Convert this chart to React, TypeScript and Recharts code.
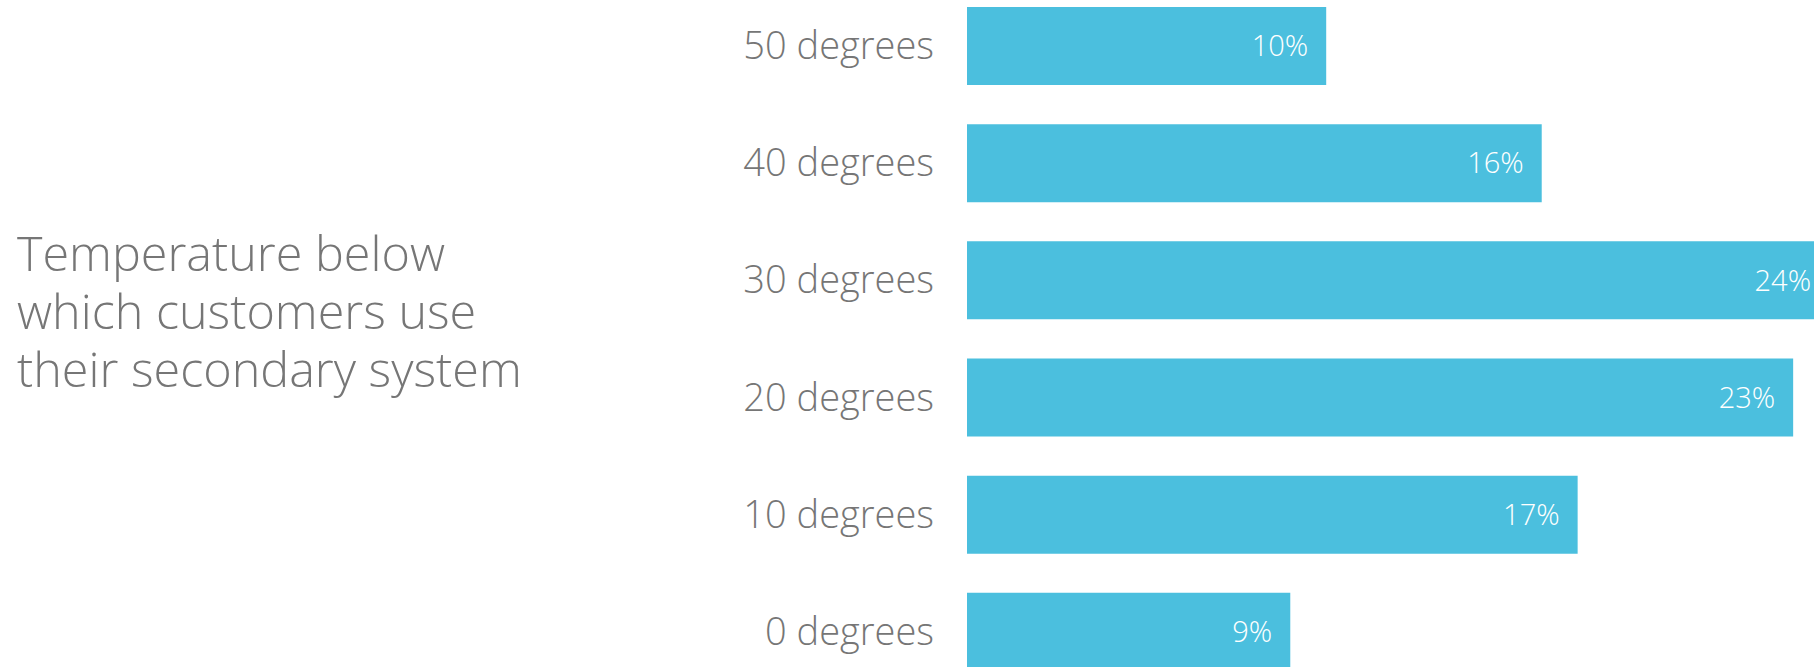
import React from "react";
import { BarChart, Bar, XAxis, YAxis, LabelList } from "recharts";

const categories = ["50 degrees", "40 degrees", "30 degrees", "20 degrees", "10 degrees", "0 degrees"];
const shares = [10, 16, 24, 23, 17, 9];
const titleLines = ["Temperature below", "which customers use", "their secondary system"];

const BAR_COLOR = "#4BBFDE";
const TEXT_COLOR = "#767676";

const data = categories.map((label, i) => ({ label, value: shares[i] }));

export default function App() {
    return (
        <div style={{ position: "absolute", left: 0, top: 0, width: 1814, height: 667, overflow: "hidden", background: "#fff" }}>
            <div style={{
                position: "absolute", left: 17, top: 223,
                fontFamily: "'Open Sans', sans-serif", fontWeight: 300,
                fontSize: 48.5, lineHeight: "58px", color: TEXT_COLOR,
                whiteSpace: "nowrap",
            }}>
                {titleLines.map((t) => <div key={t}>{t}</div>)}
            </div>
            <div style={{ position: "absolute", left: 0, top: -13 }}>
                <BarChart
                    width={1865}
                    height={703}
                    data={data}
                    layout="vertical"
                    margin={{ top: 0, right: 0, bottom: 0, left: 0 }}
                    barCategoryGap={39}
                >
                    <XAxis type="number" domain={[0, 25]} hide />
                    <YAxis
                        type="category"
                        dataKey="label"
                        width={967}
                        axisLine={false}
                        tickLine={false}
                        tickSize={0}
                        tickMargin={33}
                        tick={{ fill: TEXT_COLOR, fontSize: 38, fontWeight: 300, fontFamily: "'Open Sans', sans-serif" }}
                    />
                    <Bar dataKey="value" fill={BAR_COLOR} barSize={78} isAnimationActive={false}>
                        <LabelList
                            dataKey="value"
                            position="insideRight"
                            offset={18}
                            formatter={(v: number) => `${v}%`}
                            fill="#ffffff"
                            fontSize={29}
                            fontWeight={300}
                            fontFamily="'Open Sans', sans-serif"
                        />
                    </Bar>
                </BarChart>
            </div>
        </div>
    );
}
